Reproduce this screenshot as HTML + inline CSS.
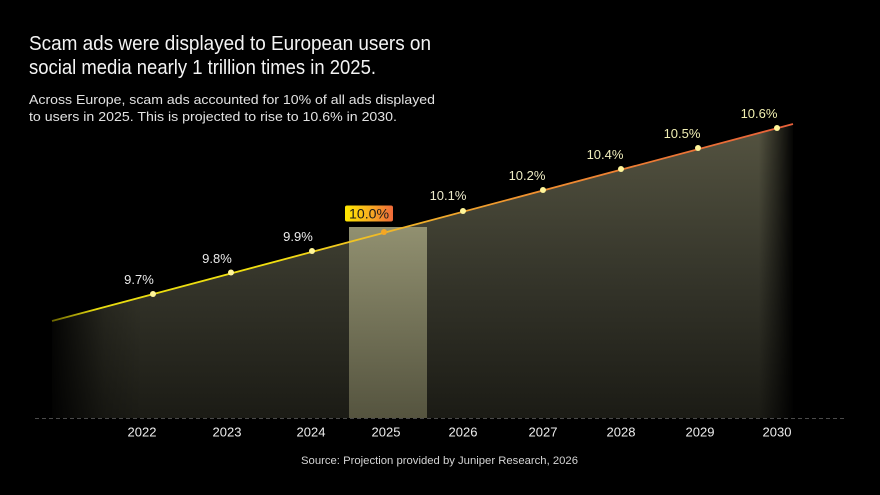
<!DOCTYPE html>
<html>
<head>
<meta charset="utf-8">
<style>
  html,body{margin:0;padding:0;background:#000;}
  body{width:880px;height:495px;overflow:hidden;}
  svg{display:block;}
  text{font-family:"Liberation Sans", sans-serif;}
</style>
</head>
<body>
<svg width="880" height="495" viewBox="0 0 880 495" xmlns="http://www.w3.org/2000/svg">
  <defs>
    <linearGradient id="areaV" x1="0" y1="124" x2="0" y2="418" gradientUnits="userSpaceOnUse">
      <stop offset="0" stop-color="#555441"/>
      <stop offset="0.5" stop-color="#36362b"/>
      <stop offset="1" stop-color="#1b1b15"/>
    </linearGradient>
    <linearGradient id="fadeH" x1="52" y1="0" x2="800" y2="0" gradientUnits="userSpaceOnUse">
      <stop offset="0" stop-color="#fff" stop-opacity="0.1"/>
      <stop offset="0.07" stop-color="#fff" stop-opacity="0.8"/>
      <stop offset="0.12" stop-color="#fff" stop-opacity="1"/>
      <stop offset="0.945" stop-color="#fff" stop-opacity="1"/>
      <stop offset="0.97" stop-color="#fff" stop-opacity="0.5"/>
      <stop offset="0.993" stop-color="#fff" stop-opacity="0"/>
      <stop offset="1" stop-color="#fff" stop-opacity="0"/>
    </linearGradient>
    <mask id="areaMask" maskUnits="userSpaceOnUse" x="0" y="0" width="880" height="495">
      <rect x="0" y="0" width="880" height="495" fill="url(#fadeH)"/>
    </mask>
    <linearGradient id="barV" x1="0" y1="227" x2="0" y2="418" gradientUnits="userSpaceOnUse">
      <stop offset="0" stop-color="#919070"/>
      <stop offset="1" stop-color="#55543f"/>
    </linearGradient>
    <linearGradient id="lineG" x1="52" y1="0" x2="793" y2="0" gradientUnits="userSpaceOnUse">
      <stop offset="0" stop-color="#6a6400"/>
      <stop offset="0.06" stop-color="#e8dc10"/>
      <stop offset="0.3" stop-color="#f2e010"/>
      <stop offset="0.45" stop-color="#f0b828"/>
      <stop offset="0.65" stop-color="#f09030"/>
      <stop offset="1" stop-color="#e8603a"/>
    </linearGradient>
    <linearGradient id="tagG" x1="345" y1="0" x2="393" y2="0" gradientUnits="userSpaceOnUse">
      <stop offset="0" stop-color="#ffe800"/>
      <stop offset="0.5" stop-color="#f8b020"/>
      <stop offset="1" stop-color="#f06a3a"/>
    </linearGradient>
  </defs>

  <!-- Title -->
  <text x="29" y="50" font-size="20.5" fill="#f4f4f4" textLength="402" lengthAdjust="spacingAndGlyphs">Scam ads were displayed to European users on</text>
  <text x="29" y="74" font-size="20.5" fill="#f4f4f4" textLength="347" lengthAdjust="spacingAndGlyphs">social media nearly 1 trillion times in 2025.</text>
  <text x="29" y="104" font-size="13" fill="#e2e2e2" textLength="406" lengthAdjust="spacingAndGlyphs">Across Europe, scam ads accounted for 10% of all ads displayed</text>
  <text x="29" y="121" font-size="13" fill="#e2e2e2" textLength="368" lengthAdjust="spacingAndGlyphs">to users in 2025. This is projected to rise to 10.6% in 2030.</text>

  <!-- Area -->
  <polygon points="52,321 793,124 793,418 52,418" fill="url(#areaV)" mask="url(#areaMask)"/>

  <!-- Highlight bar -->
  <rect x="349" y="227" width="78" height="191" fill="url(#barV)"/>

  <!-- Baseline -->
  <line x1="35" y1="418.5" x2="845" y2="418.5" stroke="#4a4a4a" stroke-width="1" stroke-dasharray="4 3"/>

  <!-- Line -->
  <line x1="52" y1="321" x2="793" y2="124" stroke="url(#lineG)" stroke-width="1.8"/>

  <!-- Dots -->
  <g fill="#fff59a">
    <circle cx="153" cy="294" r="3"/>
    <circle cx="231" cy="272.5" r="3"/>
    <circle cx="312" cy="251" r="3"/>
    <circle cx="463" cy="211" r="3"/>
    <circle cx="543" cy="190" r="3"/>
    <circle cx="621" cy="169" r="3"/>
    <circle cx="698" cy="148" r="3"/>
    <circle cx="777" cy="128" r="3"/>
  </g>
  <circle cx="384" cy="232" r="3" fill="#f5a623"/>

  <!-- Data labels -->
  <g font-size="13" text-anchor="middle">
    <text x="139" y="284" fill="#eaeaea">9.7%</text>
    <text x="217" y="263" fill="#eaeaea">9.8%</text>
    <text x="298" y="241" fill="#ececec">9.9%</text>
    <text x="448" y="200" fill="#eeeccc">10.1%</text>
    <text x="527" y="180" fill="#efedc4">10.2%</text>
    <text x="605" y="159" fill="#f0eebc">10.4%</text>
    <text x="682" y="138" fill="#f1efb4">10.5%</text>
    <text x="759" y="118" fill="#f2f0b0">10.6%</text>
  </g>

  <!-- Highlight tag -->
  <rect x="345" y="205.5" width="48" height="16" rx="2" fill="url(#tagG)"/>
  <text x="369" y="218.5" font-size="13.5" text-anchor="middle" fill="#1a1a1a" textLength="40" lengthAdjust="spacingAndGlyphs">10.0%</text>

  <!-- Year labels -->
  <g font-size="13" text-anchor="middle" fill="#ededed">
    <text x="142" y="436.5">2022</text>
    <text x="227" y="436.5">2023</text>
    <text x="311" y="436.5">2024</text>
    <text x="386" y="436.5">2025</text>
    <text x="463" y="436.5">2026</text>
    <text x="543" y="436.5">2027</text>
    <text x="621" y="436.5">2028</text>
    <text x="700" y="436.5">2029</text>
    <text x="777" y="436.5">2030</text>
  </g>

  <!-- Source -->
  <text x="301" y="464" font-size="11" fill="#d4d4d4" textLength="277" lengthAdjust="spacingAndGlyphs">Source: Projection provided by Juniper Research, 2026</text>
</svg>
</body>
</html>
